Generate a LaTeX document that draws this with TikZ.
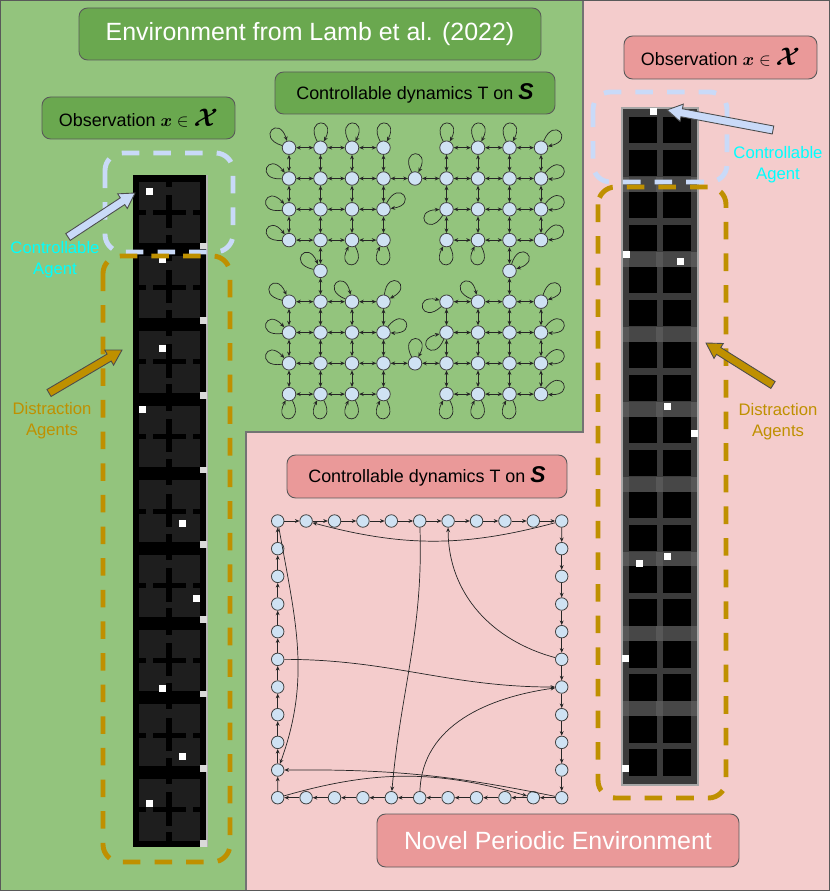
\documentclass[tikz,border=0pt]{standalone}
\usepackage{amsmath, amssymb}
\usepackage{fontspec}
\setmainfont{Liberation Sans}
\usepackage{xcolor}
\usepackage{tikz}
\usetikzlibrary{calc, arrows.meta, positioning}

\definecolor{envgreen}{HTML}{93C47D}
\definecolor{boxgreen}{HTML}{6AA84F}
\definecolor{envpink}{HTML}{F4CCCC}
\definecolor{boxpink}{HTML}{EA9999}
\definecolor{statefill}{HTML}{CFE2F3}
\definecolor{agentblue}{HTML}{C9DAF8}
\definecolor{distgold}{HTML}{BF9000}
\definecolor{agentcyan}{HTML}{00FFFF}
\definecolor{cellgray}{HTML}{1E1E1E}

% fat pointer arrow: style, tail, tip
\newcommand{\fatarrow}[3]{%
  \coordinate (fa-b) at ($(#3)!8.5pt!(#2)$);
  \draw[#1] ($(#2)!2.3pt!90:(#3)$) -- ($(fa-b)!2.3pt!90:(#3)$) -- ($(fa-b)!5pt!90:(#3)$)
    -- (#3) -- ($(fa-b)!5pt!-90:(#3)$) -- ($(fa-b)!2.3pt!-90:(#3)$) -- ($(#2)!2.3pt!-90:(#3)$) -- cycle;
}

\begin{document}
\begin{tikzpicture}[x=0.02cm, y=-0.02cm, >={Stealth[length=2.6pt,width=2.2pt]},
    envbox/.style={draw=black!65, line width=0.5pt, rounded corners=0.17cm, inner sep=0pt},
    statenode/.style={circle, draw=black!75, line width=0.45pt, fill=statefill, minimum size=0.27cm, inner sep=0pt},
    link/.style={line width=0.4pt, black!85},
    agentdash/.style={agentblue, line width=2.8pt, dash pattern=on 10pt off 8pt, rounded corners=0.35cm},
    distdash/.style={distgold, line width=2.8pt, dash pattern=on 10pt off 8pt, rounded corners=0.35cm},
    agentlabel/.style={font=\fontsize{9.5}{11.8}\selectfont, align=center, inner sep=0pt}]

    \useasboundingbox (0,0) rectangle (830,891);

    % =================================================================
    % BACKGROUND: two environments
    % =================================================================
    \fill[envgreen] (0,0) -- (583,0) -- (583,432) -- (246,432) -- (246,891) -- (0,891) -- cycle;
    \fill[envpink] (583,0) -- (830,0) -- (830,891) -- (246,891) -- (246,432) -- (583,432) -- cycle;
    \draw[black!55, line width=0.6pt] (583,0) -- (583,432) -- (246,432) -- (246,891);
    \draw[black!65, line width=1pt] (0,0) rectangle (830,891);

    % =================================================================
    % LEFT: observation strip (Lamb et al.)
    % =================================================================
    \fill[black] (133,175) rectangle (207,847);
    \draw[gray!60, line width=0.6pt] (207,175) -- (207,847);
    \foreach \k in {0,...,8} {
        \pgfmathsetmacro{\fy}{175+74.67*\k}
        \fill[cellgray] (139,\fy+6.7) rectangle (200,\fy+68.3);
        % maze walls
        \fill[black] (165.7,\fy+6.7) rectangle (172.3,\fy+11.7);
        \fill[black] (165.7,\fy+20) rectangle (172.3,\fy+53.3);
        \fill[black] (165.7,\fy+60) rectangle (172.3,\fy+68.3);
        \fill[black] (139,\fy+35) rectangle (146.3,\fy+40);
        \fill[black] (153,\fy+35) rectangle (186.3,\fy+40);
        \fill[black] (193,\fy+35) rectangle (200,\fy+40);
        \fill[gray!30] (200,\fy+67.7) rectangle (207,\fy+74.3);
    }
    \foreach \px/\py in {149/192, 162/260, 162/348, 142/409, 182/523, 196/598, 162/688, 182/756, 149/803}
        \fill[white] (\px-3.5,\py-3.5) rectangle (\px+3.5,\py+3.5);

    % =================================================================
    % RIGHT: observation strip (periodic)
    % =================================================================
    \fill[black!77] (622,108) rectangle (698,785);
    \foreach \k in {0,...,8} {
        \pgfmathsetmacro{\ry}{117+74.9*\k}
        \ifnum\k<8
            \fill[black!72] (622,\ry+60) rectangle (698,\ry+74.9);
            \foreach \cx in {622,656,691}
                \fill[black!66] (\cx,\ry+60) rectangle (\cx+7,\ry+74.9);
        \fi
        \foreach \cx in {629,663}
            \foreach \cy in {0,33}
                \fill[black] (\cx,\ry+\cy) rectangle (\cx+27.5,\ry+\cy+26.5);
    }
    \draw[gray!70, line width=0.6pt] (622,108) rectangle (698,785);
    \foreach \px/\py in {653/112, 626/255, 680/262, 667/406, 694/433, 639/563, 667/556, 625/658, 625/768}
        \fill[white] (\px-3.5,\py-3.5) rectangle (\px+3.5,\py+3.5);

    % =================================================================
    % DASHED REGIONS AND POINTERS
    % =================================================================
    \draw[agentdash] (105,153) rectangle (233,252);
    \draw[distdash] (103,256) rectangle (230,862);
    \draw[agentdash] (593,92) rectangle (727,182);
    \draw[distdash] (598,187) rectangle (726,798);

    \coordinate (agentL-tail) at (68,237);  \coordinate (agentL-tip) at (135,193);
    \coordinate (distL-tail) at (49,393);   \coordinate (distL-tip) at (122,350);
    \coordinate (agentR-tail) at (773,130); \coordinate (agentR-tip) at (667,110);
    \coordinate (distR-tail) at (773,385);  \coordinate (distR-tip) at (706,343);
    \fatarrow{fill=agentblue, draw=black!70, line width=0.5pt}{agentL-tail}{agentL-tip}
    \fatarrow{fill=distgold, draw=black!70, line width=0.5pt}{distL-tail}{distL-tip}
    \fatarrow{fill=agentblue, draw=black!70, line width=0.5pt}{agentR-tail}{agentR-tip}
    \fatarrow{fill=distgold, draw=black!70, line width=0.5pt}{distR-tail}{distR-tip}

    \node[agentlabel, text=agentcyan] (agentL-text) at (55,260) {Controllable\\Agent};
    \node[agentlabel, text=distgold] (distL-text) at (52,421) {Distraction\\Agents};
    \node[agentlabel, text=agentcyan] (agentR-text) at (778,165) {Controllable\\Agent};
    \node[agentlabel, text=distgold] (distR-text) at (778,422) {Distraction\\Agents};

    % =================================================================
    % LABEL BOXES
    % =================================================================
    \node[envbox, fill=boxgreen, minimum width=9.24cm, minimum height=1.04cm, text=white,
          font=\fontsize{14.2}{17}\selectfont] (title) at (310,34) {Environment from Lamb et al. (2022)};
    \node[envbox, fill=boxgreen, minimum width=3.86cm, minimum height=0.84cm,
          font=\fontsize{10.2}{12}\selectfont] (obsL) at (138.5,118)
          {Observation $\boldsymbol{x}\in$ {\fontsize{14}{14}\selectfont$\boldsymbol{\mathcal{X}}$}};
    \node[envbox, fill=boxgreen, minimum width=5.6cm, minimum height=0.84cm,
          font=\fontsize{10.2}{12}\selectfont] (dynT) at (415,93)
          {Controllable dynamics T on {\fontsize{13}{13}\selectfont\bfseries\itshape S}};
    \node[envbox, fill=boxpink, minimum width=3.86cm, minimum height=0.86cm,
          font=\fontsize{10.2}{12}\selectfont] (obsR) at (720.5,57.5)
          {Observation $\boldsymbol{x}\in$ {\fontsize{14}{14}\selectfont$\boldsymbol{\mathcal{X}}$}};
    \node[envbox, fill=boxpink, minimum width=5.6cm, minimum height=0.86cm,
          font=\fontsize{10.2}{12}\selectfont] (dynB) at (427,476.5)
          {Controllable dynamics T on {\fontsize{13}{13}\selectfont\bfseries\itshape S}};
    \node[envbox, fill=boxpink, minimum width=7.24cm, minimum height=1.06cm, text=white,
          font=\fontsize{14.2}{17}\selectfont] (novel) at (558,840.5) {Novel Periodic Environment};

    % =================================================================
    % TOP GRAPH: four rooms
    % =================================================================
    \foreach \i in {0,1,2,3,5,6,7,8}
        \foreach \j in {0,1,2,3,5,6,7,8}
            \node[statenode] (g-\i-\j) at (289+31.5*\i, 147.7+30.8*\j) {};
    \foreach \i/\j in {4/1, 4/7, 1/4, 7/4}
        \node[statenode] (g-\i-\j) at (289+31.5*\i, 147.7+30.8*\j) {};

    % moves inside rooms
    \foreach \j in {0,2,3,5,6,8}
        \foreach \i/\k in {0/1,1/2,2/3,5/6,6/7,7/8} {
            \draw[link, <->] (g-\i-\j) -- (g-\k-\j);
            \draw[link, <->] (g-\j-\i) -- (g-\j-\k);
        }
    % doorways
    \foreach \j in {1,7}
        \foreach \i/\k in {0/1,1/2,2/3,3/4,4/5,5/6,6/7,7/8} {
            \draw[link, <->] (g-\i-\j) -- (g-\k-\j);
            \draw[link, <->] (g-\j-\i) -- (g-\j-\k);
        }
    % self loops
    \foreach \i/\j/\a [evaluate=\a as \ao using {int(\a+28)}, evaluate=\a as \ai using {int(\a-28)}] in
        {0/0/135, 1/0/90, 2/0/90, 3/0/90, 0/1/155, 0/2/160, 0/3/155, 3/2/35, 2/3/-90, 3/3/-90,
         1/4/140, 4/1/90,
         5/0/90, 6/0/90, 7/0/90, 8/0/40, 8/1/25, 8/2/25, 8/3/30, 5/2/210, 5/3/-90, 6/3/-90,
         7/4/45,
         0/5/140, 0/6/160, 0/7/160, 2/5/130, 3/5/55, 3/6/25, 0/8/-90, 1/8/-90, 2/8/-90, 3/8/-90,
         4/7/90,
         5/5/195, 6/5/130, 8/5/45, 5/6/220, 8/6/25, 8/7/25, 8/8/25, 5/8/-90, 6/8/-90, 7/8/-90}
        \draw[link, ->] (g-\i-\j) to[out=\ao, in=\ai, looseness=8, min distance=0.55cm] (g-\i-\j);

    % =================================================================
    % BOTTOM GRAPH: periodic ring
    % =================================================================
    \foreach \i in {0,...,10}
        \node[statenode, minimum size=0.25cm] (c\i) at (277.7+28.4*\i, 521) {};
    \foreach \j [evaluate=\j as \n using {int(10+\j)}] in {1,...,10}
        \node[statenode, minimum size=0.25cm] (c\n) at (561.7, 521+27.67*\j) {};
    \foreach \i [evaluate=\i as \n using {int(20+\i)}] in {1,...,10}
        \node[statenode, minimum size=0.25cm] (c\n) at (561.7-28.4*\i, 797.7) {};
    \foreach \j [evaluate=\j as \n using {int(30+\j)}] in {1,...,9}
        \node[statenode, minimum size=0.25cm] (c\n) at (277.7, 797.7-27.67*\j) {};

    \foreach \k [evaluate=\k as \n using {int(mod(\k+1,40))}] in {0,...,39}
        \draw[link, ->] (c\k) -- (c\n);

    % shortcuts
    \draw[link, ->] (c10) to[out=195, in=-15] (c1);
    \draw[link, ->] (c0) to[out=-80, in=70] (c31);
    \draw[link, ->] (c5) to[out=-88, in=85] (c26);
    \draw[link, ->] (c15) to[out=165, in=-90] (c6);
    \draw[link, ->] (c35) to[out=0, in=180] (c16);
    \draw[link, ->] (c25) to[out=88, in=188] (c16);
    \draw[link, ->] (c20) to[bend right=6] (c31);
    \draw[link, ->] (c30) to[bend left=16] (c21);

\end{tikzpicture}
\end{document}
